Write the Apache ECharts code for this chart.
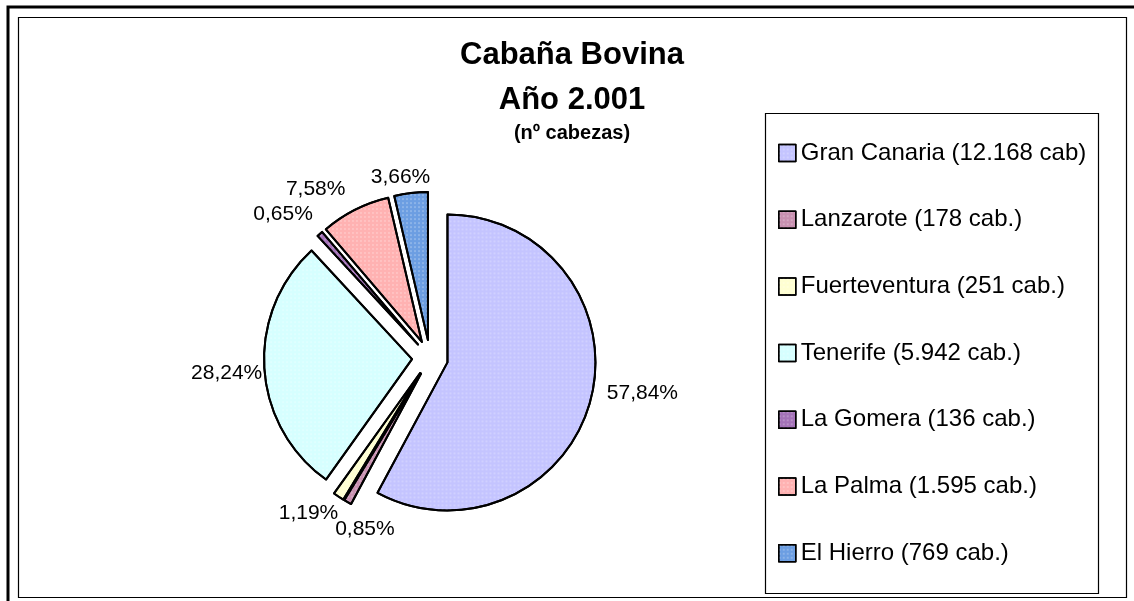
<!DOCTYPE html>
<html>
<head>
<meta charset="utf-8">
<script src="https://cdn.jsdelivr.net/npm/echarts@6/dist/echarts.min.js"></script>
<style>
html,body{margin:0;padding:0;background:#fff;}
#chart{width:1134px;height:601px;}
</style>
</head>
<body>
<div id="chart"></div>
<script>
const titleLines = ['Cabaña Bovina', 'Año 2.001'];
const subtitle = '(nº cabezas)';
const categories = ['Gran Canaria (12.168 cab)', 'Lanzarote (178 cab.)', 'Fuerteventura (251 cab.)', 'Tenerife (5.942 cab.)', 'La Gomera (136 cab.)', 'La Palma (1.595 cab.)', 'El Hierro (769 cab.)'];
const values = [12168, 178, 251, 5942, 136, 1595, 769];
const colors = ['#C4C4FF', '#C890B0', '#FFFFD2', '#D6FFFF', '#A472B8', '#FFB2B2', '#6C9EE2'];
// small nudges of the percentage labels (style), to mimic the original label placement
const labelNudge = [[-1, -7], [61, 4], [31, 12], [10, 4], [12, -23], [13, -23], [31, -10]];

const FONT = '"Liberation Sans", Arial, sans-serif';
const total = values.reduce((a, b) => a + b, 0);

const dotDecal = {
  symbol: 'circle',
  symbolSize: 0.7,
  color: 'rgba(255,255,255,0.6)',
  dashArrayX: [[2, 2]],
  dashArrayY: [2, 2]
};

const data = categories.map((name, i) => ({
  name: name,
  value: values[i],
  selected: true,
  itemStyle: { color: colors[i], decal: dotDecal }
}));

const chart = echarts.init(document.getElementById('chart'), null, { renderer: 'canvas' });
chart.setOption({
  backgroundColor: '#fff',
  animation: false,
  title: {
    text: titleLines.join('\n'),
    subtext: subtitle,
    left: 572,
    textAlign: 'center',
    top: 33,
    itemGap: 0,
    padding: 0,
    textStyle: { fontFamily: FONT, fontSize: 31, fontWeight: 'bold', color: '#000', lineHeight: 45 },
    subtextStyle: { fontFamily: FONT, fontSize: 20, fontWeight: 'bold', color: '#000', lineHeight: 20 }
  },
  legend: {
    orient: 'vertical',
    left: 778,
    top: 141,
    padding: 0,
    itemGap: 42.7,
    itemWidth: 17,
    itemHeight: 17,
    icon: 'rect',
    selectedMode: false,
    itemStyle: { borderColor: '#000', borderWidth: 1.5 },
    textStyle: { fontFamily: FONT, fontSize: 24, color: '#000', lineHeight: 24 },
    data: categories
  },
  graphic: [
    { type: 'rect', shape: { x: 8, y: 7, width: 1140, height: 610 }, style: { fill: 'none', stroke: '#000', lineWidth: 3 }, silent: true },
    { type: 'rect', shape: { x: 18.5, y: 17.5, width: 1108, height: 580 }, style: { fill: 'none', stroke: '#000', lineWidth: 1.2 }, silent: true },
    { type: 'rect', shape: { x: 765.5, y: 113.5, width: 333, height: 480 }, style: { fill: 'none', stroke: '#000', lineWidth: 1.2 }, silent: true }
  ],
  series: [{
    type: 'pie',
    center: [430, 358],
    radius: [0, 148],
    startAngle: 90,
    clockwise: true,
    selectedMode: 'multiple',
    selectedOffset: 18,
    avoidLabelOverlap: true,
    emphasis: { disabled: true },
    select: { itemStyle: { borderColor: '#000', borderWidth: 2 } },
    itemStyle: { borderColor: '#000', borderWidth: 2 },
    label: {
      show: true,
      position: 'outside',
      fontFamily: FONT,
      fontSize: 21,
      color: '#000',
      formatter: p => (p.value / total * 100).toFixed(2).replace('.', ',') + '%'
    },
    labelLine: { show: false, length: 6, length2: 6 },
    labelLayout: p => ({ dx: labelNudge[p.dataIndex][0], dy: labelNudge[p.dataIndex][1] }),
    data: data
  }]
});
</script>
</body>
</html>
